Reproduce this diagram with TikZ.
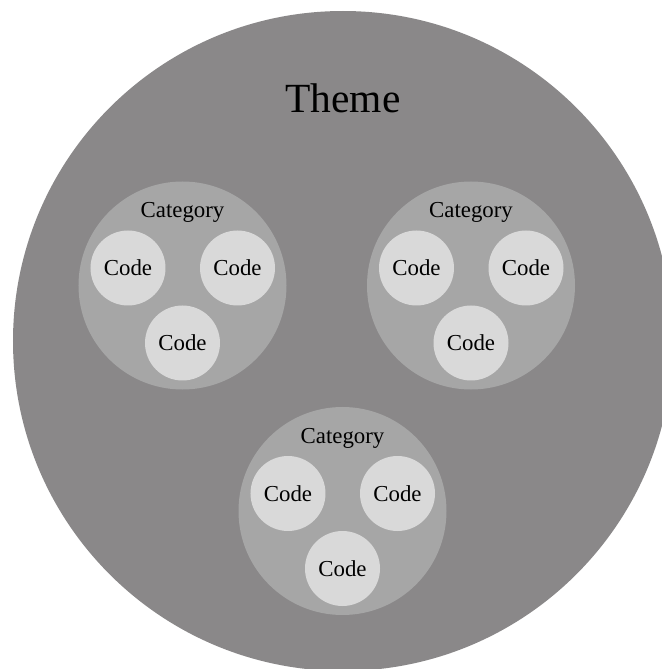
\documentclass[tikz,border=0pt]{standalone}
\usepackage{fontspec}
\setmainfont{Liberation Serif}
\usepackage{tikz}
\definecolor{themegray}{RGB}{138,136,137}
\definecolor{catgray}{RGB}{166,166,166}
\definecolor{codegray}{RGB}{217,217,217}
\tikzset{
	categorycircle/.style={circle, fill=catgray, minimum size=4.16cm, inner sep=0pt},
	codecircle/.style={circle, fill=codegray, minimum size=1.5cm, inner sep=0pt, font=\fontsize{13}{15}\selectfont},
	catlabel/.style={font=\fontsize{13}{15}\selectfont}
}

\begin{document}
\begin{tikzpicture}
				\clip (0, 0) rectangle (13.24, 13.38);
				
				\node[circle, fill=themegray, minimum size=13.2cm, inner sep=0pt] (theme) at (6.86, 6.56) {};
				\node[font=\fontsize{23.6}{28}\selectfont] (themelabel) at (6.86, 11.42) {Theme};
				
				\node[categorycircle] (catleft) at (3.65, 7.67) {};
				\node[catlabel] (catleftlabel) at (3.65, 9.13) {Category};
				\node[codecircle] (codeleftA) at (2.56, 8.02) {Code};
				\node[codecircle] (codeleftB) at (4.75, 8.02) {Code};
				\node[codecircle] (codeleftC) at (3.65, 6.52) {Code};
				
				\node[categorycircle] (catright) at (9.42, 7.67) {};
				\node[catlabel] (catrightlabel) at (9.42, 9.13) {Category};
				\node[codecircle] (coderightA) at (8.33, 8.02) {Code};
				\node[codecircle] (coderightB) at (10.52, 8.02) {Code};
				\node[codecircle] (coderightC) at (9.42, 6.52) {Code};
				
				\node[categorycircle] (catbottom) at (6.85, 3.16) {};
				\node[catlabel] (catbottomlabel) at (6.85, 4.62) {Category};
				\node[codecircle] (codebottomA) at (5.76, 3.51) {Code};
				\node[codecircle] (codebottomB) at (7.95, 3.51) {Code};
				\node[codecircle] (codebottomC) at (6.85, 2.01) {Code};
			\end{tikzpicture}
\end{document}
